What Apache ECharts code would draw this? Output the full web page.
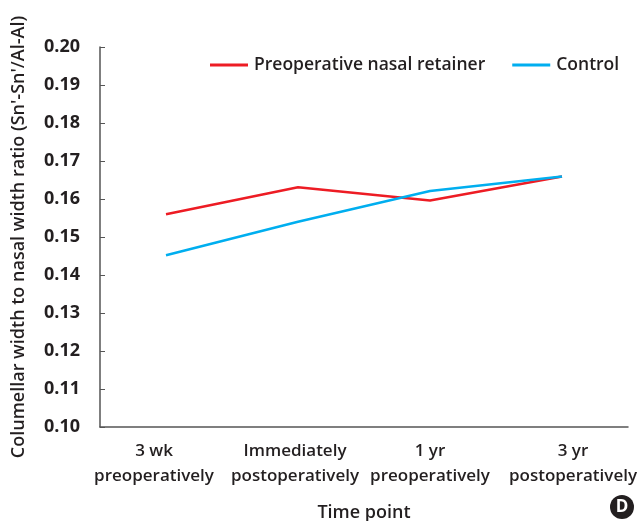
<!DOCTYPE html>
<html>
<head>
<meta charset="utf-8">
<script src="https://cdn.jsdelivr.net/npm/echarts@6/dist/echarts.min.js"></script>
<style>
  html, body { margin: 0; padding: 0; background: #fff; }
  #chart { width: 641px; height: 521px; }
</style>
</head>
<body>
<div id="chart"></div>
<script>
// time points
var timePoints = ['3 wk\npreoperatively', 'Immediately\npostoperatively', '1 yr\npreoperatively', '3 yr\npostoperatively']
// Sn'-Sn'/Al-Al ratio
var retainerValues = [0.1560, 0.1631, 0.1596, 0.1659]
var controlValues = [0.1452, 0.1540, 0.1621, 0.1659]

var textColor = '#231f20'
var fontFamily = '"Open Sans", "Noto Sans", sans-serif'
// label nudges (the printed labels sit a bit off the category centres)
var labelStyles = ['l', 'm', 'c', 'r']

var labelText = {
  color: textColor,
  fontSize: 17,
  fontWeight: 600,
  lineHeight: 25
}

var myChart = echarts.init(document.getElementById('chart'))
myChart.setOption({
  animation: false,
  color: ['#ed1c24', '#00aeef'],
  textStyle: { fontFamily: fontFamily },
  legend: {
    data: ['Preoperative nasal retainer', 'Control'],
    top: 51,
    left: 205,
    itemWidth: 38,
    itemHeight: 3,
    itemGap: 27,
    icon: 'rect',
    textStyle: { color: textColor, fontSize: 17.5, fontWeight: 600, fontFamily: fontFamily, padding: [0, 0, 0, 1] }
  },
  grid: {
    left: 100,
    right: 13,
    top: 47,
    bottom: 94,
    outerBoundsMode: 'none'
  },
  xAxis: {
    type: 'category',
    boundaryGap: true,
    data: timePoints,
    name: 'Time point',
    nameLocation: 'middle',
    nameGap: 77,
    nameTextStyle: { color: textColor, fontSize: 18, fontWeight: 600 },
    axisTick: { show: false },
    axisLine: { lineStyle: { color: '#555', width: 1.5 } },
    axisLabel: {
      color: textColor,
      fontSize: 17,
      fontWeight: 600,
      lineHeight: 25,
      margin: 12,
      interval: 0,
      formatter: function (v, i) {
        var s = labelStyles[i]
        return v.split('\n').map(function (t) { return '{' + s + '|' + t + '}' }).join('\n')
      },
      rich: {
        l: Object.assign({ padding: [0, 24, 0, 0] }, labelText),
        m: Object.assign({ padding: [0, 6, 0, 0] }, labelText),
        c: Object.assign({}, labelText),
        r: Object.assign({ padding: [0, 0, 0, 22] }, labelText)
      }
    }
  },
  yAxis: {
    type: 'value',
    min: 0.10,
    max: 0.20,
    interval: 0.01,
    name: "Columellar width to nasal width ratio (Sn'-Sn'/Al-Al)",
    nameLocation: 'middle',
    nameGap: 72,
    nameTextStyle: { color: textColor, fontSize: 18, fontWeight: 600 },
    axisLine: { show: true, lineStyle: { color: '#555', width: 1.5 } },
    axisTick: { show: true, length: 5, inside: true, lineStyle: { color: '#555' } },
    splitLine: { show: false },
    axisLabel: {
      color: textColor,
      fontSize: 18,
      fontWeight: 'bold',
      margin: 20,
      formatter: function (v) { return v.toFixed(2) }
    }
  },
  graphic: [
    {
      type: 'circle',
      shape: { cx: 622, cy: 507, r: 12 },
      style: { fill: '#231f20' }
    },
    {
      type: 'text',
      x: 622,
      y: 507,
      style: {
        text: 'D',
        fill: '#fff',
        font: 'bold 17px "Open Sans", sans-serif',
        align: 'center',
        verticalAlign: 'middle'
      }
    }
  ],
  series: [
    {
      name: 'Preoperative nasal retainer',
      type: 'line',
      data: retainerValues,
      symbol: 'none',
      lineStyle: { width: 2.5, color: '#ed1c24' }
    },
    {
      name: 'Control',
      type: 'line',
      data: controlValues,
      symbol: 'none',
      lineStyle: { width: 2.5, color: '#00aeef' }
    }
  ]
})
</script>
</body>
</html>
